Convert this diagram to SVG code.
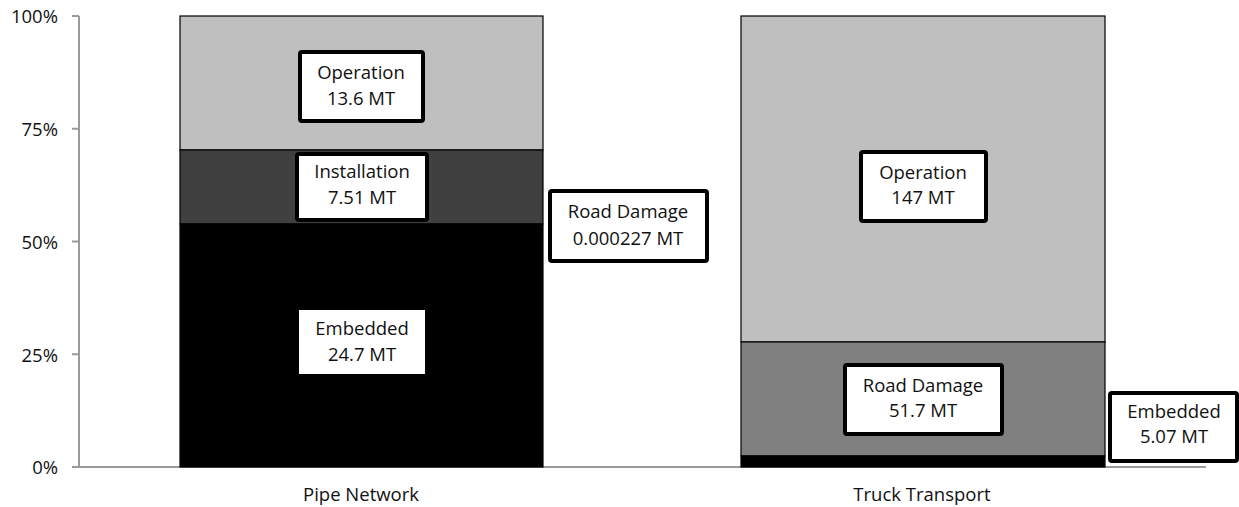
<svg xmlns="http://www.w3.org/2000/svg" width="1239" height="507" viewBox="0 0 1239 507">
<style>
text{font-family:"Open Sans","Noto Sans","Liberation Sans",sans-serif;fill:#111;}
.ax{font-size:18.5px;text-anchor:end;}
.cat{font-size:18.5px;text-anchor:middle;}
.lbl{font-size:18.5px;text-anchor:middle;}
.axl{stroke:#9a9a9a;stroke-width:2;fill:none;}
.seg{stroke:#000;stroke-width:1.2;}
.op{fill:#bfbfbf;}
.inst{fill:#404040;}
.emb{fill:#000;}
.road{fill:#808080;}
.box{fill:#fff;stroke:#000;stroke-width:4;}
</style>
<rect width="1239" height="507" fill="#fff"/>
<g id="axes">
<path class="axl" d="M79,16V467H1206M72,16H79M72,128.75H79M72,241.5H79M72,354.25H79M72,467H79"/>
<text class="ax" x="58" y="23">100%</text>
<text class="ax" x="58" y="136">75%</text>
<text class="ax" x="58" y="249">50%</text>
<text class="ax" x="58" y="362">25%</text>
<text class="ax" x="58" y="474">0%</text>
<text class="cat" x="361" y="501">Pipe Network</text>
<text class="cat" x="922" y="501">Truck Transport</text>
</g>
<g id="bar-pipe">
<rect class="seg op" x="180" y="16" width="363" height="134"/>
<rect class="seg inst" x="180" y="150" width="363" height="74"/>
<rect class="seg emb" x="180" y="224" width="363" height="243"/>
</g>
<g id="bar-truck">
<rect class="seg op" x="741" y="16" width="364" height="326"/>
<rect class="seg road" x="741" y="342" width="364" height="114"/>
<rect class="seg emb" x="741" y="456" width="364" height="11"/>
</g>
<g id="label-pipe-operation">
<rect class="box" x="300" y="52" width="123" height="69" rx="2"/>
<text class="lbl" x="361" y="79">Operation</text>
<text class="lbl" x="361" y="105">13.6 MT</text>
</g>
<g id="label-pipe-installation">
<rect class="box" x="297" y="154" width="130" height="66" rx="2"/>
<text class="lbl" x="362" y="178">Installation</text>
<text class="lbl" x="362" y="204">7.51 MT</text>
</g>
<g id="label-pipe-embedded">
<rect class="box" x="297" y="308" width="130" height="68" rx="2"/>
<text class="lbl" x="362" y="335">Embedded</text>
<text class="lbl" x="362" y="361">24.7 MT</text>
</g>
<g id="label-pipe-road">
<rect class="box" x="550" y="191" width="157" height="70" rx="2"/>
<text class="lbl" x="628" y="218">Road Damage</text>
<text class="lbl" x="628" y="245">0.000227 MT</text>
</g>
<g id="label-truck-operation">
<rect class="box" x="861" y="152" width="125" height="69" rx="2"/>
<text class="lbl" x="923" y="179">Operation</text>
<text class="lbl" x="923" y="204">147 MT</text>
</g>
<g id="label-truck-road">
<rect class="box" x="845" y="365" width="157" height="69" rx="2"/>
<text class="lbl" x="923" y="392">Road Damage</text>
<text class="lbl" x="923" y="417">51.7 MT</text>
</g>
<g id="label-truck-embedded">
<rect class="box" x="1110" y="393" width="127" height="68" rx="2"/>
<text class="lbl" x="1174" y="418">Embedded</text>
<text class="lbl" x="1174" y="443">5.07 MT</text>
</g>
</svg>
